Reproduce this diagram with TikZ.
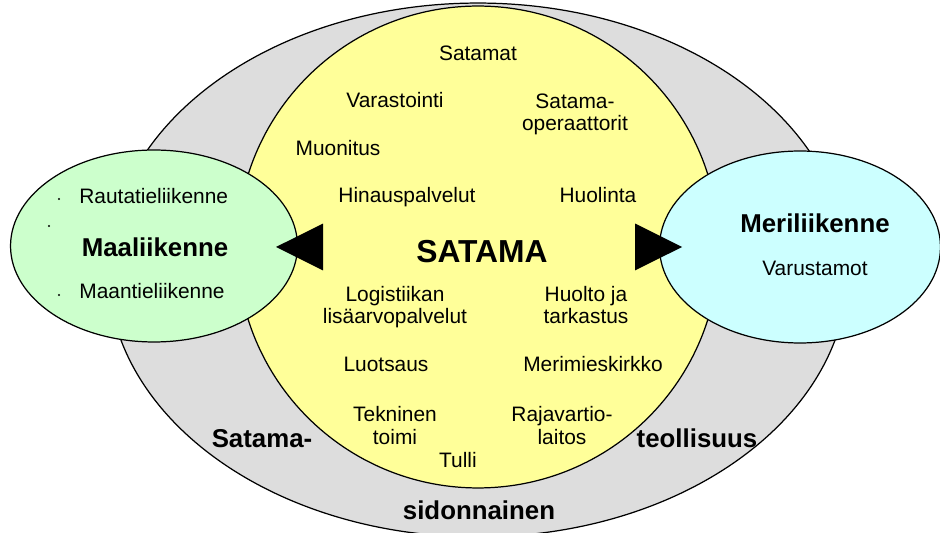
\documentclass[tikz,border=0pt]{standalone}
\usepackage{fontspec}
\setmainfont{Liberation Sans}
\usepackage{xcolor}
\usetikzlibrary{positioning}
\usetikzlibrary{shapes.geometric}
\definecolor{ringgray}{HTML}{DDDDDD}
\definecolor{portyellow}{HTML}{FFFF99}
\definecolor{landgreen}{HTML}{CCFFCC}
\definecolor{seacyan}{HTML}{CCFFFF}

\begin{document}
\begin{tikzpicture}
        [
        x = 0.02cm, y = -0.02cm,
        zone/.style = {ellipse, draw, line width = 0.7pt, inner sep = 0},
        item/.style = {font = {\fontsize{11.9}{13}\selectfont}, anchor = base, align = center, inner sep = 0},
        heading/.style = {font = {\bfseries\fontsize{14.7}{17}\selectfont}, anchor = base, inner sep = 0},
        core/.style = {font = {\bfseries\fontsize{18.1}{20}\selectfont}, anchor = base, inner sep = 0}]
        \useasboundingbox (0, 0) rectangle (940, 533);
        \node (ring) [zone, fill = ringgray, minimum width = 14.8cm, minimum height = 10.68cm] at (478, 270) {};
        \node (port) [zone, fill = portyellow, minimum width = 9.64cm, minimum height = 9.64cm] at (478, 247) {};
        \node (land) [zone, fill = landgreen, minimum width = 5.74cm, minimum height = 3.84cm] at (154, 246) {};
        \node (sea) [zone, fill = seacyan, minimum width = 5.62cm, minimum height = 3.84cm] at (800, 247) {};
        \node (satama) [core] at (482, 263) {SATAMA};
        \node (satamat) [item] at (478, 61) {Satamat};
        \node (varastointi) [item] at (395, 108) {Varastointi};
        \node (operaattorit) [item] at (575, 131) {Satama-\\operaattorit};
        \node (muonitus) [item] at (338, 156) {Muonitus};
        \node (hinaus) [item] at (407, 203) {Hinauspalvelut};
        \node (huolinta) [item] at (598, 203) {Huolinta};
        \node (logistiikka) [item] at (395, 324) {Logistiikan\\lisäarvopalvelut};
        \node (huolto) [item] at (586, 324) {Huolto ja\\tarkastus};
        \node (luotsaus) [item] at (386, 372) {Luotsaus};
        \node (kirkko) [item] at (593, 372) {Merimieskirkko};
        \node (tekninen) [item] at (395, 444) {Tekninen\\toimi};
        \node (tulli) [item] at (458, 467) {Tulli};
        \node (raja) [item] at (562, 444) {Rajavartio-\\laitos};
        \node (ringleft) [heading] at (262, 448) {Satama-};
        \node (ringright) [heading] at (697, 448) {teollisuus};
        \node (ringbottom) [heading] at (479, 520) {sidonnainen};
        \node (maa) [heading] at (155, 257) {Maaliikenne};
        \node (rauta) [item, anchor = base west] at (79, 204) {Rautatieliikenne};
        \node (maantie) [item, anchor = base west] at (79, 299) {Maantieliikenne};
        \node (meri) [heading] at (815, 233) {Meriliikenne};
        \node (varustamot) [item] at (815, 276) {Varustamot};
        \fill (59, 199) circle [radius = 0.6pt];
        \fill (49, 226) circle [radius = 0.6pt];
        \fill (59, 295) circle [radius = 0.6pt];
        % pointers from the port out to the land and sea sides
        \coordinate (landtip) at (276, 247);
        \coordinate (landbase) at (323, 247);
        \coordinate (seatip) at (682, 247);
        \coordinate (seabase) at (635, 247);
        \fill (landtip) -- ([yshift = 0.47cm] landbase) -- ([yshift = -0.47cm] landbase) -- cycle;
        \fill (seatip) -- ([yshift = 0.47cm] seabase) -- ([yshift = -0.47cm] seabase) -- cycle;
    \end{tikzpicture}
\end{document}
